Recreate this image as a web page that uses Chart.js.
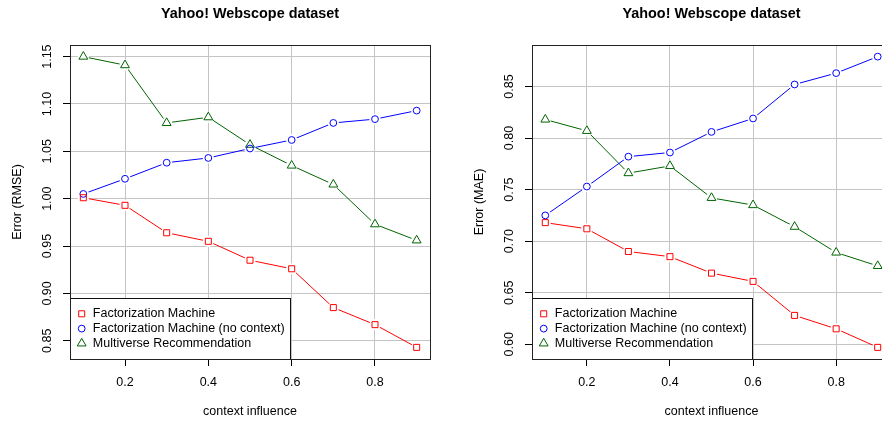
<!DOCTYPE html>
<html>
<head>
<meta charset="utf-8">
<script src="https://cdn.jsdelivr.net/npm/chart.js@4.4.1/dist/chart.umd.min.js"></script>
<style>
  html, body { margin: 0; padding: 0; background: #fff; }
  body { width: 882px; height: 422px; position: relative; overflow: hidden; }
  canvas { position: absolute; top: 0; }
  #rmseChart { left: 0; }
  #maeChart { left: 441px; }
</style>
</head>
<body>
<canvas id="rmseChart" width="441" height="422"></canvas>
<canvas id="maeChart" width="460" height="422"></canvas>
<script>
// data
const contextInfluence = [0.1, 0.2, 0.3, 0.4, 0.5, 0.6, 0.7, 0.8, 0.9];
const xTicks = [0.2, 0.4, 0.6, 0.8];

const rmseFM      = [1.001, 0.993, 0.964, 0.955, 0.935, 0.926, 0.885, 0.867, 0.843];
const rmseFMNoCtx = [1.005, 1.021, 1.038, 1.043, 1.053, 1.062, 1.080, 1.084, 1.093];
const rmseMulti   = [1.150, 1.141, 1.080, 1.086, 1.057, 1.035, 1.015, 0.973, 0.956];
const rmseTicks   = [0.85, 0.90, 0.95, 1.00, 1.05, 1.10, 1.15];

const maeFM       = [0.718, 0.712, 0.690, 0.685, 0.669, 0.661, 0.628, 0.615, 0.597];
const maeFMNoCtx  = [0.725, 0.753, 0.782, 0.786, 0.806, 0.819, 0.852, 0.863, 0.879];
const maeMulti    = [0.818, 0.807, 0.766, 0.773, 0.742, 0.735, 0.714, 0.689, 0.676];
const maeTicks    = [0.60, 0.65, 0.70, 0.75, 0.80, 0.85];

const seriesNames = ['Factorization Machine', 'Factorization Machine (no context)', 'Multiverse Recommendation'];
const seriesColors = ['#ff0000', '#0000ff', '#006400'];
// R pch 0 / 1 / 2 as Chart.js point styles
const seriesStyles = ['rect', 'circle', 'triangle'];
const seriesRadius = [4.25, 3.4, 5.1];

const FONT = '"Liberation Sans", Arial, Helvetica, sans-serif';
const gridColor = '#c4c4c4';

// box, title, rotated y labels, x labels and the boxed legend, drawn like base R graphics
const rPlot = {
  id: 'rPlot',
  afterDraw(chart, args, opts) {
    const { ctx, chartArea: a, scales: { x, y } } = chart;
    ctx.save();
    ctx.fillStyle = '#000';

    // title
    ctx.font = 'bold 14.4px ' + FONT;
    ctx.textAlign = 'center';
    ctx.textBaseline = 'middle';
    ctx.fillText(opts.title, (a.left + a.right) / 2, 14.5);

    // x tick labels + axis title
    ctx.font = '12.5px ' + FONT;
    xTicks.forEach(v => ctx.fillText(v.toFixed(1), x.getPixelForValue(v), a.bottom + 23.5));
    ctx.fillText('context influence', (a.left + a.right) / 2, a.bottom + 52.5);

    // y tick labels (rotated, as R does with las = 0)
    opts.yTicks.forEach(v => {
      ctx.save();
      ctx.translate(a.left - 22, y.getPixelForValue(v));
      ctx.rotate(-Math.PI / 2);
      ctx.fillText(v.toFixed(2), 0, 0);
      ctx.restore();
    });
    ctx.save();
    ctx.translate(a.left - 52, (a.top + a.bottom) / 2);
    ctx.rotate(-Math.PI / 2);
    ctx.fillText(opts.yLabel, 0, 0);
    ctx.restore();

    // legend box in the bottom-left corner
    const lx = Math.round(a.left) + 0.5, ly = 298.5;
    const lw = 220, lh = Math.round(a.bottom) - ly + 0.5;
    ctx.fillStyle = '#fff';
    ctx.fillRect(lx, ly, lw, lh);
    ctx.strokeStyle = '#111';
    ctx.lineWidth = 1;
    ctx.strokeRect(lx, ly, lw, lh);
    ctx.textAlign = 'left';
    seriesNames.forEach((name, i) => {
      const cy = ly + 15.3 + 14.8 * i;
      ctx.fillStyle = '#fff';
      ctx.strokeStyle = seriesColors[i];
      Chart.helpers.drawPoint(ctx, { pointStyle: seriesStyles[i], radius: seriesRadius[i], borderWidth: 1 },
                              lx + 11.2, cy);
      ctx.fillStyle = '#000';
      ctx.fillText(name, lx + 22.3, cy);
    });

    // plot box
    ctx.strokeStyle = '#222';
    ctx.strokeRect(Math.round(a.left) + 0.5, Math.round(a.top) + 0.5,
                   Math.round(a.right - a.left), Math.round(a.bottom - a.top));
    ctx.restore();
  }
};

function makeChart(id, title, yLabel, yTicks, series, yWidth, rightPad) {
  const all = series.flat();
  const lo = Math.min(...all), hi = Math.max(...all);
  const pad = (hi - lo) * 0.04;
  const xPad = (contextInfluence[contextInfluence.length - 1] - contextInfluence[0]) * 0.04;
  const pts = vals => contextInfluence.map((cx, j) => ({ x: cx, y: vals[j] }));

  const datasets = [];
  series.forEach((vals, i) => {
    // the connecting line
    datasets.push({
      label: seriesNames[i], data: pts(vals), order: 3,
      borderColor: seriesColors[i], borderWidth: 1, pointRadius: 0, tension: 0, fill: false
    });
    // white halo: the line stops short of each point, like type = "b"
    datasets.push({
      label: seriesNames[i] + ' gap', data: pts(vals), order: 2, showLine: false,
      pointStyle: 'circle', pointRadius: 5.6, pointBorderWidth: 0,
      pointBackgroundColor: '#fff', pointBorderColor: '#fff'
    });
    // the open marker
    datasets.push({
      label: seriesNames[i] + ' points', data: pts(vals), order: 1, showLine: false,
      pointStyle: seriesStyles[i], pointRadius: seriesRadius[i], pointBorderWidth: 1,
      pointBorderColor: seriesColors[i], pointBackgroundColor: 'rgba(255,255,255,0)'
    });
  });

  return new Chart(document.getElementById(id), {
    type: 'line',
    data: { datasets },
    options: {
      responsive: false,
      animation: false,
      devicePixelRatio: 1,
      events: [],
      layout: { padding: { top: 45, right: rightPad, left: 0, bottom: 0 } },
      plugins: {
        legend: { display: false },
        tooltip: { enabled: false },
        rPlot: { title: title, yLabel: yLabel, yTicks: yTicks }
      },
      scales: {
        x: {
          type: 'linear',
          min: contextInfluence[0] - xPad,
          max: contextInfluence[contextInfluence.length - 1] + xPad,
          z: 1,
          afterBuildTicks: s => { s.ticks = xTicks.map(v => ({ value: v })); },
          afterFit: s => { s.height = 63; },
          ticks: { display: false },
          grid: { color: gridColor, tickColor: '#000', tickLength: 7 },
          border: { display: false }
        },
        y: {
          type: 'linear',
          min: lo - pad,
          max: hi + pad,
          z: 1,
          afterBuildTicks: s => { s.ticks = yTicks.map(v => ({ value: v })); },
          afterFit: s => { s.width = yWidth; },
          ticks: { display: false },
          grid: { color: gridColor, tickColor: '#000', tickLength: 7 },
          border: { display: false }
        }
      }
    },
    plugins: [rPlot]
  });
}

makeChart('rmseChart', 'Yahoo! Webscope dataset', 'Error (RMSE)', rmseTicks,
          [rmseFM, rmseFMNoCtx, rmseMulti], 70, 11);
makeChart('maeChart', 'Yahoo! Webscope dataset', 'Error (MAE)', maeTicks,
          [maeFM, maeFMNoCtx, maeMulti], 91, 10);
</script>
</body>
</html>
